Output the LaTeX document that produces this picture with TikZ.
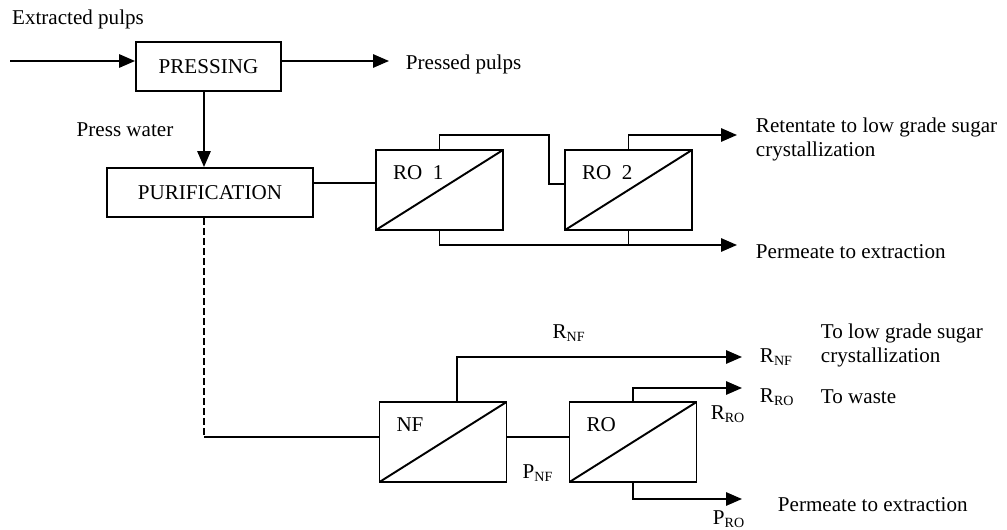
\documentclass[tikz,border=0pt]{standalone}
\usepackage{fontspec}
\setmainfont{Liberation Serif}
\usetikzlibrary{positioning,arrows.meta,calc}

\begin{document}
\begin{tikzpicture}[x=0.02cm, y=-0.02cm,
    line width=1.1pt,
    font=\fontsize{12}{13.7}\selectfont,
    unitbox/.style={draw, minimum height=0.98cm, inner sep=0pt},
    membrane/.style={draw, minimum width=2.54cm, minimum height=1.6cm, inner sep=0pt,
      path picture={\draw[line width=1.1pt] (path picture bounding box.south west)
        -- (path picture bounding box.north east);}},
    tag/.style={anchor=north west, inner sep=0pt, xshift=0.34cm, yshift=-0.32cm},
    flow/.style={-{Triangle[length=9pt,width=7.5pt]}}]
  \useasboundingbox (0,0) rectangle (1007,530);

  % Pressing and purification
  \node[unitbox, minimum width=2.9cm] (pressing) at (208.5,66.5) {PRESSING};
  \node[unitbox, minimum width=4.12cm] (purification) at (210,192.5) {PURIFICATION};
  \coordinate (feed) at (10,61);
  \coordinate (pressed) at (389,61);
  \coordinate (pw) at (204,0);
  \draw[flow] (feed) -- (feed -| pressing.west);
  \draw[flow] (pressing.east |- feed) -- (pressed);
  \draw[flow] (pressing.south -| pw) -- (purification.north -| pw);
  \node (extracted) at (78,19) {Extracted pulps};
  \node[anchor=west, inner sep=0pt] (pressedlbl) at (405,64) {Pressed pulps};
  \node (presswater) at (125,130) {Press water};

  % Upper line: RO 1 and RO 2
  \node[membrane, label={[tag]north west:RO~~1}] (ro1) at (439.5,190) {};
  \node[membrane, label={[tag]north west:RO~~2}] (ro2) at (628.5,190) {};
  \coordinate (feedro) at (0,183);
  \coordinate (rebend) at (549,184);
  \coordinate (ret1) at (737,135);
  \coordinate (perm1) at (737,245);
  \draw (purification.east |- feedro) -- (ro1.west |- feedro);
  \draw (ro1.north) |- (rebend |- ret1) -- (rebend) -- (rebend -| ro2.west);
  \draw[flow] (ro2.north) |- (ret1);
  \draw[flow] (ro1.south) |- (perm1);
  \draw (ro2.south) -- (ro2.south |- perm1);
  \node[anchor=west, align=left, inner sep=0pt] (ret1lbl) at (755,139)
    {Retentate to low grade sugar\\crystallization};
  \node[anchor=west, inner sep=0pt] (perm1lbl) at (755,252) {Permeate to extraction};

  % Lower line: NF and RO
  \node[membrane, label={[tag]north west:NF}] (nf) at (443,442) {};
  \node[membrane, label={[tag]north west:RO}] (ro) at (633,442) {};
  \coordinate (nfbend) at (204,437);
  \coordinate (rnf) at (742,357);
  \coordinate (rro) at (742,388);
  \coordinate (pro) at (742,499);
  \draw[dash pattern=on 4pt off 1.7pt] (purification.south -| pw) -- (nfbend);
  \draw (nfbend) -- (nfbend -| nf.west);
  \draw (nf.east |- nfbend) -- (ro.west |- nfbend);
  \draw[flow] ($(nf.north)+(14,0)$) |- (rnf);
  \draw[flow] (ro.north) |- (rro);
  \draw[flow] (ro.south) |- (pro);

  % Stream labels
  \node (rnfup) at (569,333) {R\textsubscript{NF}};
  \node (rrobox) at (728,414) {R\textsubscript{RO}};
  \node (pnf) at (538,473) {P\textsubscript{NF}};
  \node (prolbl) at (729,519) {P\textsubscript{RO}};
  \node[anchor=west, inner sep=0pt] (rnfout) at (759,357) {R\textsubscript{NF}};
  \node[anchor=west, inner sep=0pt] (rroout) at (759,397) {R\textsubscript{RO}};
  \node[anchor=west, align=left, inner sep=0pt] (lowgrade) at (820,345)
    {To low grade sugar\\crystallization};
  \node[anchor=west, inner sep=0pt] (waste) at (820,397) {To waste};
  \node[anchor=west, inner sep=0pt] (perm2lbl) at (777,505) {Permeate to extraction};
\end{tikzpicture}
\end{document}
